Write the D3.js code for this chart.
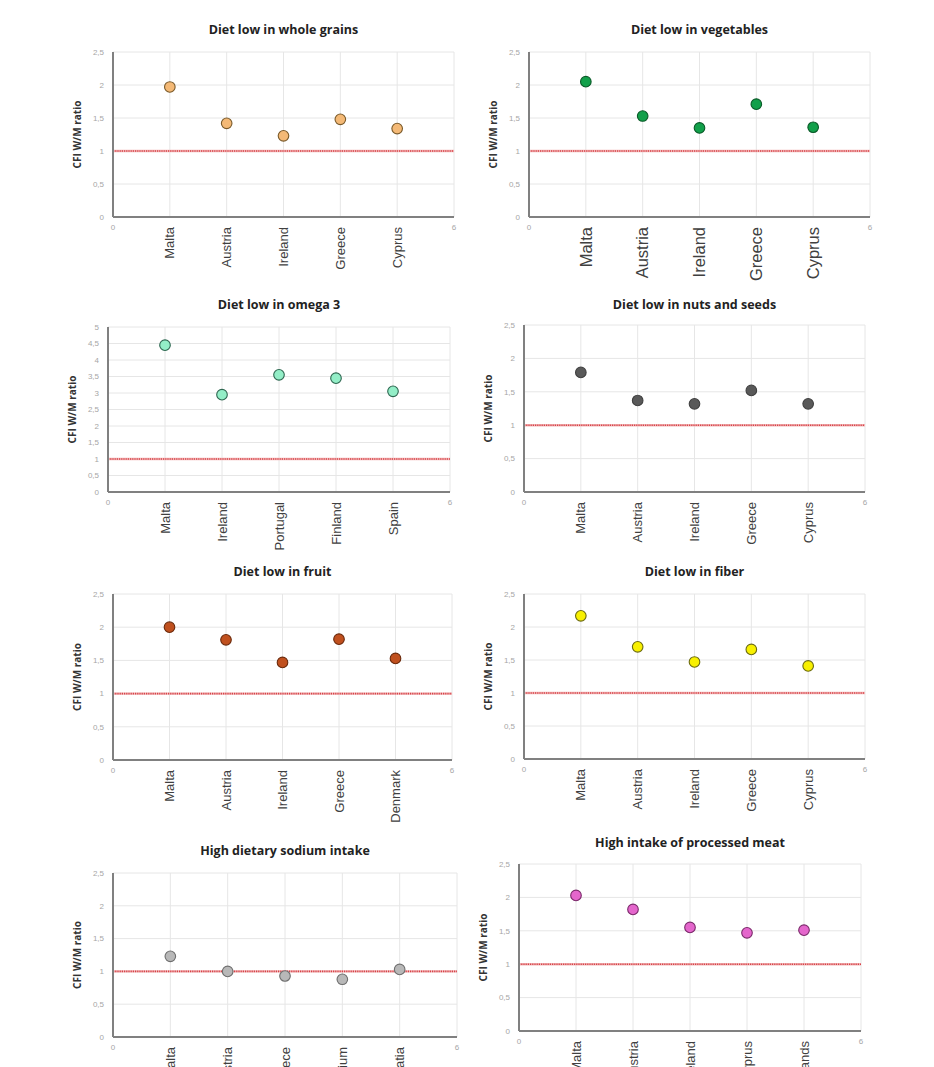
<!DOCTYPE html>
<html>
<head>
<meta charset="utf-8">
<script src="https://cdn.jsdelivr.net/npm/d3@7"></script>
<style>
  body { margin: 0; background: #fff; }
  svg { display: block; }
  .title { font-family: "Open Sans", sans-serif; font-weight: 700; font-size: 12.5px; fill: #222; }
  .ytitle { font-family: "Open Sans", sans-serif; font-weight: 700; font-size: 10px; fill: #333; }
  .tick-lbl { font-family: "Liberation Sans", Arial, sans-serif; font-size: 8px; fill: #a6a6a6; }
  .cat-lbl { font-family: "Liberation Sans", Arial, sans-serif; fill: #404040; }
</style>
</head>
<body>
<div id="chart"></div>
<script>
// values
const titles = [
  "Diet low in whole grains",
  "Diet low in vegetables",
  "Diet low in omega 3",
  "Diet low in nuts and seeds",
  "Diet low in fruit",
  "Diet low in fiber",
  "High dietary sodium intake",
  "High intake of processed meat"
];

const countries = [
  ["Malta", "Austria", "Ireland", "Greece", "Cyprus"],
  ["Malta", "Austria", "Ireland", "Greece", "Cyprus"],
  ["Malta", "Ireland", "Portugal", "Finland", "Spain"],
  ["Malta", "Austria", "Ireland", "Greece", "Cyprus"],
  ["Malta", "Austria", "Ireland", "Greece", "Denmark"],
  ["Malta", "Austria", "Ireland", "Greece", "Cyprus"],
  ["Malta", "Austria", "Greece", "Belgium", "Croatia"],
  ["Malta", "Austria", "Ireland", "Cyprus", "Netherlands"]
];

const ratios = [
  [1.97, 1.42, 1.23, 1.48, 1.34],
  [2.05, 1.53, 1.35, 1.71, 1.36],
  [4.45, 2.95, 3.55, 3.45, 3.05],
  [1.79, 1.37, 1.32, 1.52, 1.32],
  [2.00, 1.81, 1.47, 1.82, 1.53],
  [2.17, 1.70, 1.47, 1.66, 1.41],
  [1.23, 1.00, 0.93, 0.88, 1.03],
  [2.03, 1.82, 1.55, 1.47, 1.51]
];

const yMax = [2.5, 2.5, 5, 2.5, 2.5, 2.5, 2.5, 2.5];
const xDomain = [0, 6];
const refLine = 1;
const yTitle = "CFI W/M ratio";

// layout + style per panel
const boxes = [
  {l: 113, t: 52,  r: 454, b: 217,  ty: 30,  fs: 13, fill: "#f4b976", stroke: "#7a5a2a"},
  {l: 529, t: 52,  r: 870, b: 217,  ty: 30,  fs: 16.5, fill: "#12a04a", stroke: "#0a5a28"},
  {l: 108, t: 327, r: 450, b: 492,  ty: 305, fs: 13, fill: "#93eec7", stroke: "#2e6650"},
  {l: 524, t: 325, r: 865, b: 492,  ty: 305, fs: 13, fill: "#595959", stroke: "#404040"},
  {l: 113, t: 594, r: 452, b: 760,  ty: 572, fs: 13, fill: "#c0501e", stroke: "#6b2a0c"},
  {l: 524, t: 594, r: 865, b: 759,  ty: 572, fs: 13, fill: "#f8f000", stroke: "#6b6a10"},
  {l: 113, t: 873, r: 457, b: 1037, ty: 851, fs: 13, fill: "#b8b8b8", stroke: "#6e6e6e"},
  {l: 519, t: 864, r: 861, b: 1031, ty: 843, fs: 13, fill: "#e466cc", stroke: "#7a2a6a"}
];

const fmt = v => d3.format("~g")(v).replace(".", ",");

const svg = d3.select("#chart").append("svg")
  .attr("width", 934)
  .attr("height", 1067);

titles.forEach((title, i) => {
  const box = boxes[i];
  const g = svg.append("g");

  const x = d3.scaleLinear().domain(xDomain).range([box.l, box.r]);
  const y = d3.scaleLinear().domain([0, yMax[i]]).range([box.b, box.t]);
  const yTicks = d3.range(0, yMax[i] + 0.001, 0.5);

  // grid
  g.selectAll(".hgrid").data(yTicks.slice(1)).enter().append("line")
    .attr("x1", box.l).attr("x2", box.r)
    .attr("y1", d => y(d)).attr("y2", d => y(d))
    .attr("stroke", "#e6e6e6").attr("stroke-width", 1);

  g.selectAll(".vgrid").data(d3.range(1, 7)).enter().append("line")
    .attr("x1", d => x(d)).attr("x2", d => x(d))
    .attr("y1", box.t).attr("y2", box.b)
    .attr("stroke", "#e6e6e6").attr("stroke-width", 1);

  // y tick labels
  g.selectAll(".ylbl").data(yTicks).enter().append("text")
    .attr("class", "tick-lbl")
    .attr("x", box.l - 9)
    .attr("y", d => y(d))
    .attr("dy", "0.35em")
    .attr("text-anchor", "end")
    .text(fmt);

  // x tick labels 0 and 6
  g.selectAll(".xlbl").data(xDomain).enter().append("text")
    .attr("class", "tick-lbl")
    .attr("x", d => x(d))
    .attr("y", box.b + 13)
    .attr("text-anchor", "middle")
    .text(d => d);

  // reference line at 1
  g.append("line")
    .attr("x1", box.l).attr("x2", box.r)
    .attr("y1", y(refLine)).attr("y2", y(refLine))
    .attr("stroke", "#f2b8b8").attr("stroke-width", 2.4);
  g.append("line")
    .attr("x1", box.l).attr("x2", box.r)
    .attr("y1", y(refLine)).attr("y2", y(refLine))
    .attr("stroke", "#d6434a").attr("stroke-width", 1.6)
    .attr("stroke-dasharray", "1.2 1");

  // axes
  g.append("line")
    .attr("x1", box.l).attr("x2", box.l)
    .attr("y1", box.t).attr("y2", box.b)
    .attr("stroke", "#808080").attr("stroke-width", 2);
  g.append("line")
    .attr("x1", box.l).attr("x2", box.r)
    .attr("y1", box.b).attr("y2", box.b)
    .attr("stroke", "#808080").attr("stroke-width", 2);

  // title
  g.append("text")
    .attr("class", "title")
    .attr("x", (box.l + box.r) / 2)
    .attr("y", box.ty)
    .attr("dy", "0.35em")
    .attr("text-anchor", "middle")
    .text(title);

  // y axis title
  g.append("text")
    .attr("class", "ytitle")
    .attr("transform", `translate(${box.l - 36},${(box.t + box.b) / 2}) rotate(-90)`)
    .attr("dy", "0.35em")
    .attr("text-anchor", "middle")
    .text(yTitle);

  // category labels
  g.selectAll(".cat").data(countries[i]).enter().append("text")
    .attr("class", "cat-lbl")
    .style("font-size", box.fs + "px")
    .attr("transform", (d, j) => `translate(${x(j + 1)},${box.b + 10}) rotate(-90)`)
    .attr("dy", "0.35em")
    .attr("text-anchor", "end")
    .text(d => d);

  // points
  g.selectAll(".pt").data(ratios[i]).enter().append("circle")
    .attr("cx", (d, j) => x(j + 1))
    .attr("cy", d => y(d))
    .attr("r", 5.3)
    .attr("fill", box.fill)
    .attr("stroke", box.stroke)
    .attr("stroke-width", 1.1);
});
</script>
</body>
</html>
